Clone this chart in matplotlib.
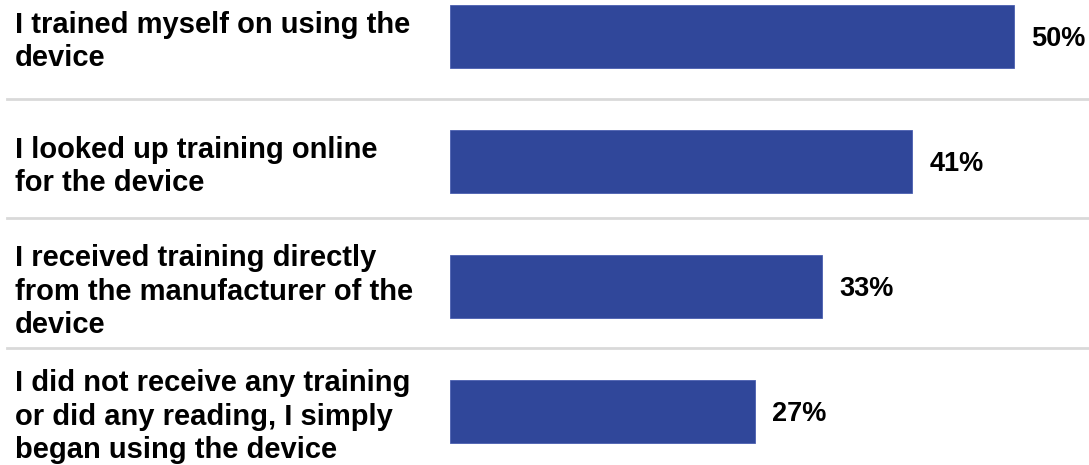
import matplotlib.pyplot as plt
import matplotlib.transforms as mtransforms
from matplotlib.lines import Line2D

categories = [
    "I trained myself on using the\ndevice",
    "I looked up training online\nfor the device",
    "I received training directly\nfrom the manufacturer of the\ndevice",
    "I did not receive any training\nor did any reading, I simply\nbegan using the device",
]
values = [50, 41, 33, 27]
separators = [0.5, 1.45, 2.49]

bar_color = "#30479a"
plt.rcParams['font.family'] = ['Liberation Sans', 'DejaVu Sans']

fig = plt.figure(figsize=(10.89, 4.65), dpi=100)
ax = fig.add_axes([450 / 1089, 0, 639 / 1089, 1])

ypos = list(range(len(values)))
ax.barh(ypos, values, height=0.504, color=bar_color, edgecolor="#4a5fb0", linewidth=0.6)
ax.set_xlim(0, 639 / 11.28)
ax.set_ylim(3.428, -0.292)
ax.axis("off")

# percentage labels just right of each bar
for y, v in zip(ypos, values):
    ax.annotate(f"{v}%", xy=(v, y), xytext=(12.5, -1.5), textcoords="offset points",
                ha="left", va="center", fontsize=19.5, fontweight="bold", color="black")

# category labels sit in the left margin, aligned to the bar rows
trans = mtransforms.blended_transform_factory(fig.transFigure, ax.transData)
for y, label in zip(ypos, categories):
    fig.text(15 / 1089, y + 0.04, label, transform=trans, ha="left", va="center",
             fontsize=21, fontweight="bold", linespacing=1.25, color="black")

for s in separators:
    fig.add_artist(Line2D([7 / 1089, 1], [s, s], transform=trans,
                          color="#d9d9d9", linewidth=2))

fig.savefig("out.png", dpi=100)
